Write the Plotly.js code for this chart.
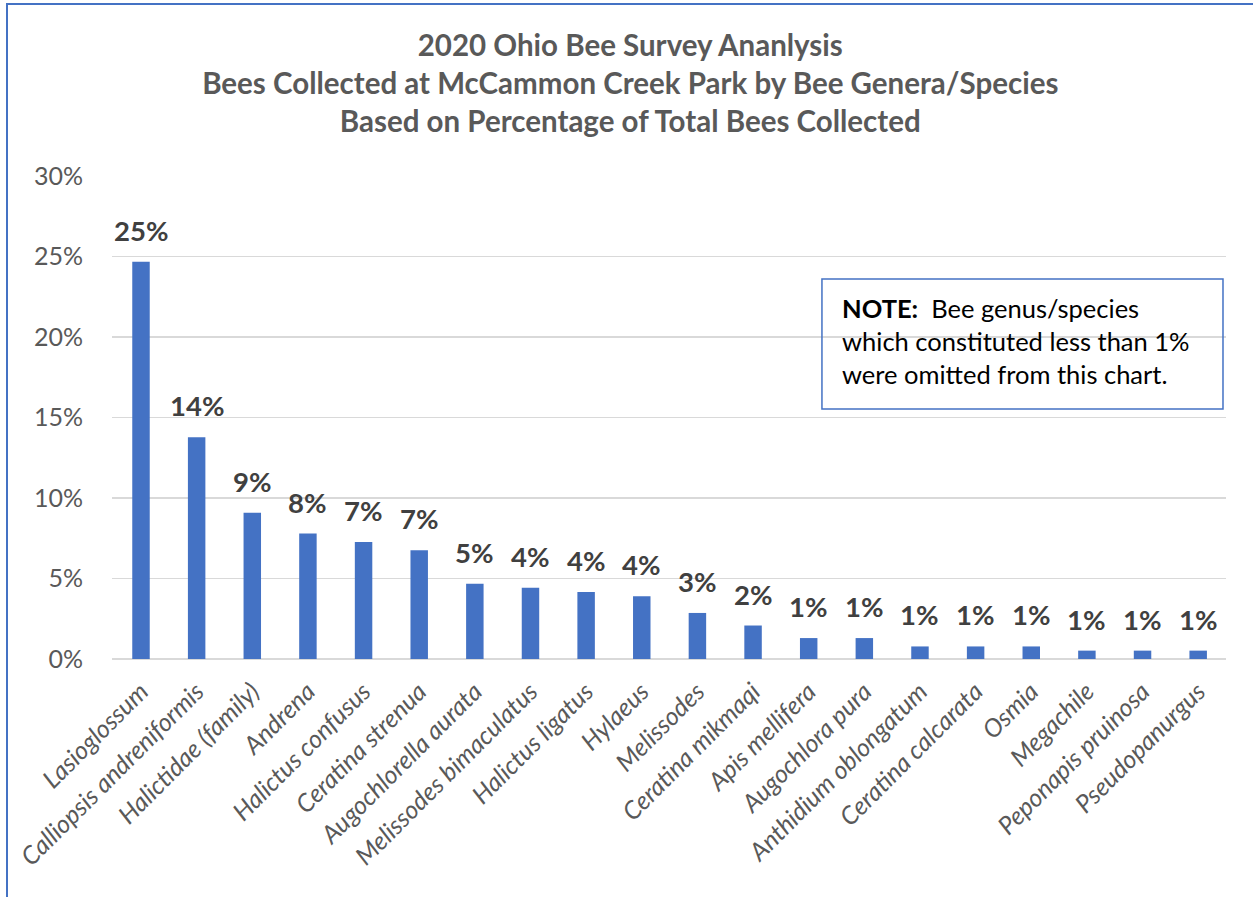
<!DOCTYPE html>
<html>
<head>
<meta charset="utf-8">
<script src="https://cdn.plot.ly/plotly-3.0.1.min.js"></script>
<style>
  html, body { margin: 0; padding: 0; background: #fff; }
  #wrap { position: relative; width: 1253px; height: 897px; overflow: hidden; }
  #chart { position: absolute; left: 0; top: 0; width: 1253px; height: 897px; }
  #frame { position: absolute; left: 6px; top: 3px; right: -10px; bottom: -10px;
           border-left: 2px solid #4472C4; border-top: 2px solid #4472C4; pointer-events: none; }
</style>
</head>
<body>
<div id="wrap">
  <div id="chart"></div>
  <div id="frame"></div>
</div>
<script>
// Bee genera/species and their share of all bees collected (percent)
const species = [
  'Lasioglossum', 'Calliopsis andreniformis', 'Halictidae (family)', 'Andrena',
  'Halictus confusus', 'Ceratina strenua', 'Augochlorella aurata', 'Melissodes bimaculatus',
  'Halictus ligatus', 'Hylaeus', 'Melissodes', 'Ceratina mikmaqi', 'Apis mellifera',
  'Augochlora pura', 'Anthidium oblongatum', 'Ceratina calcarata', 'Osmia', 'Megachile',
  'Peponapis pruinosa', 'Pseudopanurgus'
];
const percentCollected = [
  24.68, 13.77, 9.09, 7.79, 7.27, 6.75, 4.68, 4.42, 4.16, 3.90,
  2.86, 2.08, 1.30, 1.30, 0.78, 0.78, 0.78, 0.52, 0.52, 0.52
];
const yTicks = [0, 5, 10, 15, 20, 25, 30];

const titleLines = [
  '2020 Ohio Bee Survey Ananlysis',
  'Bees Collected at McCammon Creek Park by Bee Genera/Species',
  'Based on Percentage of Total Bees Collected'
];
const noteText = '<b>NOTE:</b>  Bee genus/species<br>which constituted less than 1%<br>were omitted from this chart.';

const FONT = 'Lato, "Open Sans", sans-serif';

const bars = {
  type: 'bar',
  x: species,
  y: percentCollected,
  marker: { color: '#4472C4' },
  hoverinfo: 'x+y'
};

// value labels above each bar, rounded to whole percent
const valueLabels = species.map((s, i) => ({
  x: s, y: percentCollected[i], xref: 'x', yref: 'y',
  text: Math.round(percentCollected[i]) + '%',
  showarrow: false, yanchor: 'bottom', yshift: 13,
  font: { family: FONT, size: 27.5, color: '#404040', weight: 'bold' }
}));

// note text; its outline is a separate unfilled rectangle
const note = {
  xref: 'paper', yref: 'paper', x: 0.6545, y: 0.6594,
  xanchor: 'left', yanchor: 'middle',
  text: noteText, showarrow: false, align: 'left', borderpad: 0,
  font: { family: FONT, size: 25.5, color: '#000000' }
};

const noteBox = {
  type: 'rect', xref: 'paper', yref: 'paper',
  x0: 0.6373, x1: 0.9973, y0: 0.5176, y1: 0.7867,
  line: { color: '#4472C4', width: 1.5 }, fillcolor: 'rgba(0,0,0,0)', layer: 'above'
};

const layout = {
  width: 1253, height: 897,
  margin: { l: 112, r: 27, t: 176, b: 238 },
  paper_bgcolor: '#ffffff', plot_bgcolor: '#ffffff',
  showlegend: false,
  bargap: 0.686,
  title: {
    text: titleLines.map(t => '<b>' + t + '</b>').join('<br>'),
    font: { family: FONT, size: 29.5, color: '#595959' },
    x: 0.503, xanchor: 'center', y: 0.938, yanchor: 'top'
  },
  xaxis: {
    type: 'category',
    tickangle: -45,
    tickfont: { family: FONT, size: 25, color: '#595959', style: 'italic' },
    showgrid: false, zeroline: false, showline: false,
    ticks: '', ticklabelstandoff: 12
  },
  yaxis: {
    range: [0, 30],
    tickvals: yTicks,
    ticktext: yTicks.map(v => v + '%'),
    tickfont: { family: FONT, size: 25, color: '#595959' },
    showgrid: true, gridcolor: '#D9D9D9', gridwidth: 1.4,
    zeroline: true, zerolinecolor: '#D9D9D9', zerolinewidth: 1.4,
    showline: false,
    ticks: 'outside', ticklen: 23, tickcolor: 'rgba(0,0,0,0)'
  },
  shapes: [noteBox],
  annotations: valueLabels.concat([note])
};

Plotly.newPlot('chart', [bars], layout, { displayModeBar: false, staticPlot: true });
</script>
</body>
</html>
